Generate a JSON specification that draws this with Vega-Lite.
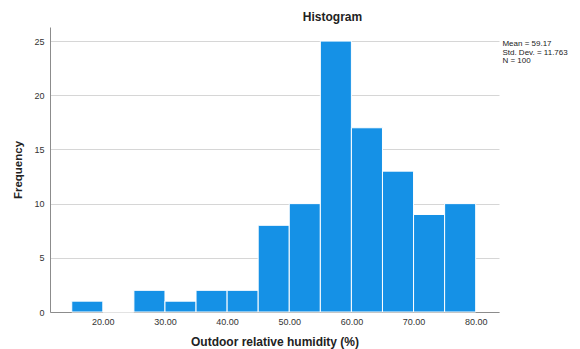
{
  "$schema": "https://vega.github.io/schema/vega-lite/v6.json",
  "autosize": "none",
  "width": 449,
  "height": 285,
  "padding": {"left": 50, "top": 27, "right": 81, "bottom": 37},
  "background": "white",
  "config": {
    "font": "Liberation Sans",
    "view": {"stroke": null},
    "axis": {"labelFont": "Liberation Sans", "titleFont": "Liberation Sans"}
  },
  "title": {
    "text": "Histogram",
    "font": "Liberation Sans",
    "fontSize": 12,
    "fontWeight": "bold",
    "color": "#222222",
    "anchor": "middle",
    "dx": 58,
    "offset": 3
  },
  "layer": [
    {
      "data": {
        "values": [
          {"bin_start": 15, "bin_end": 20, "count": 1},
          {"bin_start": 20, "bin_end": 25, "count": 0},
          {"bin_start": 25, "bin_end": 30, "count": 2},
          {"bin_start": 30, "bin_end": 35, "count": 1},
          {"bin_start": 35, "bin_end": 40, "count": 2},
          {"bin_start": 40, "bin_end": 45, "count": 2},
          {"bin_start": 45, "bin_end": 50, "count": 8},
          {"bin_start": 50, "bin_end": 55, "count": 10},
          {"bin_start": 55, "bin_end": 60, "count": 25},
          {"bin_start": 60, "bin_end": 65, "count": 17},
          {"bin_start": 65, "bin_end": 70, "count": 13},
          {"bin_start": 70, "bin_end": 75, "count": 9},
          {"bin_start": 75, "bin_end": 80, "count": 10}
        ]
      },
      "mark": {"type": "bar", "color": "#1591E6", "stroke": "white", "strokeWidth": 1},
      "encoding": {
        "x": {
          "field": "bin_start",
          "type": "quantitative",
          "scale": {"domain": [11.5, 83.75], "nice": false, "zero": false},
          "axis": {
            "title": "Outdoor relative humidity (%)",
            "titleFontSize": 12,
            "titleFontWeight": "bold",
            "titleColor": "#222222",
            "titlePadding": 10,
            "values": [20, 30, 40, 50, 60, 70, 80],
            "format": ".2f",
            "labelFontSize": 9,
            "labelColor": "#333333",
            "labelPadding": 5,
            "ticks": false,
            "grid": false,
            "domainColor": "#8c8c8c",
            "domainWidth": 1
          }
        },
        "x2": {"field": "bin_end"},
        "y": {
          "field": "count",
          "type": "quantitative",
          "scale": {"domain": [0, 26.3], "nice": false},
          "axis": {
            "title": "Frequency",
            "titleFontSize": 11.5,
            "titleFontWeight": "bold",
            "titleColor": "#222222",
            "titlePadding": 10,
            "values": [0, 5, 10, 15, 20, 25],
            "labelFontSize": 9,
            "labelColor": "#333333",
            "labelPadding": 6,
            "ticks": false,
            "grid": true,
            "gridColor": "#d6d6d6",
            "gridWidth": 1,
            "domainColor": "#8c8c8c",
            "domainWidth": 1
          }
        },
        "y2": {"datum": 0}
      }
    },
    {
      "data": {"values": [{"label": "Mean = 59.17\nStd. Dev. = 11.763\nN = 100"}]},
      "mark": {
        "type": "text",
        "align": "left",
        "baseline": "top",
        "fontSize": 8,
        "lineHeight": 8.5,
        "lineBreak": "\n",
        "color": "#222222",
        "font": "Liberation Sans"
      },
      "encoding": {
        "text": {"field": "label"},
        "x": {"datum": 84.3, "type": "quantitative", "scale": {"domain": [11.5, 83.75], "nice": false, "zero": false}},
        "y": {"datum": 25.1, "type": "quantitative", "scale": {"domain": [0, 26.3], "nice": false}}
      }
    }
  ]
}
